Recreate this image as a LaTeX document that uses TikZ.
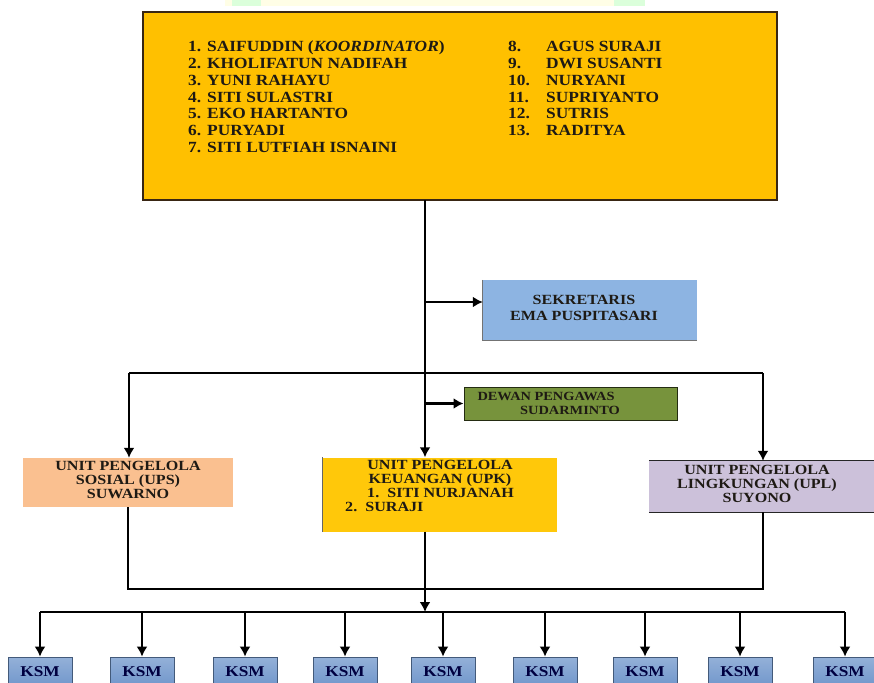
\documentclass[tikz,border=0pt]{standalone}
\usepackage{fontspec}
\setmainfont{Liberation Serif}
\newfontfamily\listfont[FakeStretch=1.12]{Liberation Serif}
\newfontfamily\boxfont[FakeStretch=1.15]{Liberation Serif}
\usetikzlibrary{arrows.meta}

\definecolor{kuning}{HTML}{FFC000}
\definecolor{kuningupk}{HTML}{FFC80A}
\definecolor{biru}{HTML}{8DB4E2}
\definecolor{hijau}{HTML}{77933C}
\definecolor{peach}{HTML}{FAC090}
\definecolor{ungu}{HTML}{CCC1DA}
\definecolor{ksmbiru}{HTML}{7096CB}
\definecolor{teks}{HTML}{1E1A14}

\tikzset{
  unit/.style = {rectangle, inner sep=0pt},
  list text/.style = {inner sep=0pt, text=teks, font={\listfont\bfseries\fontsize{15.5}{16.7}\selectfont}},
  box text/.style = {inner sep=0pt, align=center, text=teks, font={\boxfont\bfseries\fontsize{14}{13.8}\selectfont}},
  thick arrow/.style = {line width=2.8pt, -{Latex[length=10pt, width=11pt]}},
  thin line/.style = {line width=1.3pt}
}

\begin{document}
\begin{tikzpicture}[x=1pt, y=-1pt]
			% Page frame
			\useasboundingbox (0,0) rectangle (874,682);
			% faint strip at the top edge
			\fill [yellow!10] (225,0) rectangle (645,6);
			\fill [green!14] (232,0) rectangle (261,6);
			\fill [green!14] (614,0) rectangle (645,6);

			% Members box
			\node (anggota) [unit, fill=kuning, draw=black!70!brown, line width=1.4pt, minimum width=634pt, minimum height=188pt] at (460,106) {};
			\foreach \nomor/\nama [count=\i from 0] in {1./{SAIFUDDIN (\textit{KOORDINATOR})}, 2./{KHOLIFATUN NADIFAH}, 3./{YUNI RAHAYU}, 4./{SITI SULASTRI}, 5./{EKO HARTANTO}, 6./{PURYADI}, 7./{SITI LUTFIAH ISNAINI}}
			{
				\node (no\i) [list text, anchor=base west] at (188, 52+16.7*\i) {\nomor};
				\node (nama\i) [list text, anchor=base west] at (207, 52+16.7*\i) {\nama};
			}
			\foreach \nomor/\nama [count=\i from 0] in {8./{AGUS SURAJI}, 9./{DWI SUSANTI}, 10./{NURYANI}, 11./{SUPRIYANTO}, 12./{SUTRIS}, 13./{RADITYA}}
			{
				\node (nob\i) [list text, anchor=base west] at (508, 52+16.7*\i) {\nomor};
				\node (namab\i) [list text, anchor=base west] at (546, 52+16.7*\i) {\nama};
			}

			% Sekretaris
			\node (sek) [unit, fill=biru, minimum width=214pt, minimum height=60pt] at (590,310) {};
			\draw [black!55, line width=1pt] (sek.north west) -- (sek.south west) -- (sek.south east);
			\node (sektext) [box text, font={\boxfont\bfseries\fontsize{14}{15.5}\selectfont}] at (584,308) {SEKRETARIS\\EMA PUSPITASARI};

			% Dewan Pengawas
			\node (dewan) [unit, fill=hijau, draw=black!70!hijau, line width=1pt, minimum width=213pt, minimum height=33pt] at (570.5,403.5) {};
			\node (dw1) [box text, font={\boxfont\bfseries\fontsize{12.5}{13}\selectfont}] at (546,396) {DEWAN PENGAWAS};
			\node (dw2) [box text, font={\boxfont\bfseries\fontsize{12.5}{13}\selectfont}] at (570,410) {SUDARMINTO};

			% Units
			\node (ups) [unit, fill=peach, minimum width=210pt, minimum height=49pt] at (128,482.5) {};
			\node (upstext) [box text] at (128,480) {UNIT PENGELOLA\\SOSIAL (UPS)\\SUWARNO};

			\node (upk) [unit, fill=kuningupk, minimum width=234pt, minimum height=74pt] at (440,494.5) {};
			\draw [black!60, line width=1pt] (upk.north west) -- (upk.south west);
			\node (upktext) [box text] at (440,473) {UNIT PENGELOLA\\KEUANGAN (UPK)};
			\node (upk1) [box text, anchor=base west] at (367,497.5) {1.\ \ SITI NURJANAH};
			\node (upk2) [box text, anchor=base west] at (345,511.5) {2.\ \ SURAJI};

			\node (upl) [unit, fill=ungu, minimum width=226pt, minimum height=51pt] at (762,486.5) {};
			\draw [black!85, line width=1pt] (upl.north west) -- (upl.north east) (upl.south west) -- (upl.south east);
			\node (upltext) [box text] at (757,484) {UNIT PENGELOLA\\LINGKUNGAN (UPL)\\SUYONO};

			% KSM row
			\foreach \x [count=\i] in {40,142,245,345,443,545,645,740,845}
				\node (ksm\i) [unit, draw=ksmbiru!60!black, line width=0.8pt, top color=ksmbiru!75!white, bottom color=ksmbiru, minimum width=64pt, minimum height=30pt, text=blue!25!black, font={\boxfont\bfseries\fontsize{15}{15}\selectfont}] at (\x,672) {KSM};

			% Help points
			\coordinate (trunk) at (425,200);
			\coordinate (jsek) at (425,302);
			\coordinate (hl) at (129,373);
			\coordinate (hr) at (763,373);
			\coordinate (join) at (425,589);
			\coordinate (bus) at (425,612);

			% Draw Arrows/Connections
			\draw [thick arrow] (trunk) -- (trunk |- upk.north);
			\draw [thick arrow] (jsek) -- (jsek -| sek.west);
			\draw [thick arrow] (trunk |- dewan.west) -- (dewan.west);
			\draw [thin line] (hl) -- (hr);
			\draw [thick arrow] (hl) -- (hl |- ups.north);
			\draw [thick arrow] (hr) -- (hr |- upl.north);
			% units => KSM
			\draw [thin line] (ups.south) -- (ups.south |- join) -- (hr |- join) -- (hr |- upl.south);
			\draw [thick arrow] (trunk |- upk.south) -- (bus);
			\draw [thin line] (ksm1.north |- bus) -- (ksm9.north |- bus);
			\foreach \i in {1,...,9}
				\draw [thick arrow] (ksm\i.north |- bus) -- (ksm\i.north);
		\end{tikzpicture}
\end{document}
